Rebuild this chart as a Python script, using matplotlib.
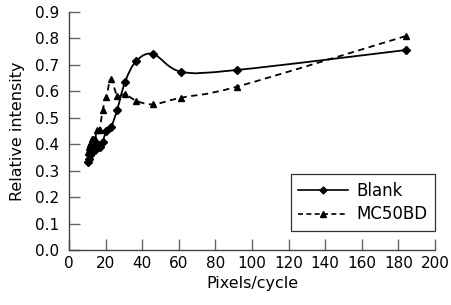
import matplotlib
matplotlib.use("Agg")
import matplotlib.pyplot as plt
import numpy as np
from matplotlib.path import Path
from matplotlib.patches import PathPatch
from matplotlib.lines import Line2D

# pixels per cycle (shared by both series)
pixels = [184.0, 92.0, 61.3, 46.0, 36.8, 30.7, 26.3, 23.0, 20.4, 18.4,
          16.7, 15.3, 14.2, 13.1, 12.3, 11.5, 10.8, 10.2]
blank = [0.756, 0.681, 0.674, 0.741, 0.715, 0.637, 0.530, 0.465, 0.450, 0.410,
         0.390, 0.400, 0.380, 0.390, 0.370, 0.360, 0.345, 0.332]
mc50bd = [0.809, 0.618, 0.576, 0.551, 0.564, 0.589, 0.584, 0.647, 0.580, 0.530,
          0.455, 0.455, 0.420, 0.420, 0.420, 0.400, 0.390, 0.370]

xticks = np.arange(0, 201, 20)
yticks = np.arange(0, 0.91, 0.1)

plt.rcParams['font.family'] = ['DejaVu Sans']
FS = 11


def smooth_path(ax, xs, ys):
    # excel style smoothed line: catmull-rom -> cubic bezier, in display coords
    pts = ax.transData.transform(np.column_stack([xs, ys]))
    n = len(pts)
    verts = [pts[0]]
    codes = [Path.MOVETO]
    for i in range(n - 1):
        p0 = pts[i - 1] if i > 0 else pts[i]
        p1 = pts[i]
        p2 = pts[i + 1]
        p3 = pts[i + 2] if i + 2 < n else pts[i + 1]
        c1 = p1 + (p2 - p0) / 6.0
        c2 = p2 - (p3 - p1) / 6.0
        verts += [c1, c2, p2]
        codes += [Path.CURVE4] * 3
    return Path(verts, codes)


fig = plt.figure(figsize=(4.52, 3.05), dpi=100)
ax = fig.add_axes([0.1527, 0.1803, 0.8097, 0.7804])
ax.set_xlim(0, 200)
ax.set_ylim(0, 0.9)

# markers
ax.plot(pixels, blank, ls='none', marker='D', ms=4.2, color='black', zorder=3)
ax.plot(pixels, mc50bd, ls='none', marker='^', ms=5, color='black', zorder=3)

fig.canvas.draw()
p1 = smooth_path(ax, pixels, blank)
p2 = smooth_path(ax, pixels, mc50bd)
ax.add_artist(PathPatch(p1, fill=False, lw=1.3, ec='black', transform=None, zorder=2))
ax.add_artist(PathPatch(p2, fill=False, lw=1.3, ec='black', ls=(0, (3.5, 2.5)),
                        transform=None, zorder=2))

ax.set_xticks(xticks)
ax.set_yticks(yticks)
ax.set_xticklabels([str(v) for v in xticks], fontsize=FS)
ax.set_yticklabels([f"{v:.1f}" for v in yticks], fontsize=FS)
ax.tick_params(direction='in', length=8, width=1, color='#666666')
ax.tick_params(axis='y', pad=7)
ax.tick_params(axis='x', pad=4)
for s in ['top', 'right']:
    ax.spines[s].set_visible(False)
for s in ['left', 'bottom']:
    ax.spines[s].set_color('#444444')
    ax.spines[s].set_linewidth(1)

ax.set_xlabel('Pixels/cycle', fontsize=FS + 0.5, labelpad=4)
ax.set_ylabel('Relative intensity', fontsize=FS + 0.5, labelpad=7)

handles = [Line2D([], [], color='black', lw=1.2, marker='D', ms=3.5),
           Line2D([], [], color='black', lw=1.2, ls=(0, (3, 2)), marker='^', ms=4.5)]
leg = ax.legend(handles, ['Blank', 'MC50BD'], loc='lower right',
                bbox_to_anchor=(1.0, 0.08), fontsize=FS + 1, frameon=True,
                fancybox=False, edgecolor='black', handlelength=3.0,
                borderpad=0.45, labelspacing=0.35, handletextpad=0.5,
                borderaxespad=0.0)
leg.get_frame().set_linewidth(0.9)

fig.savefig('out.png', dpi=100)
